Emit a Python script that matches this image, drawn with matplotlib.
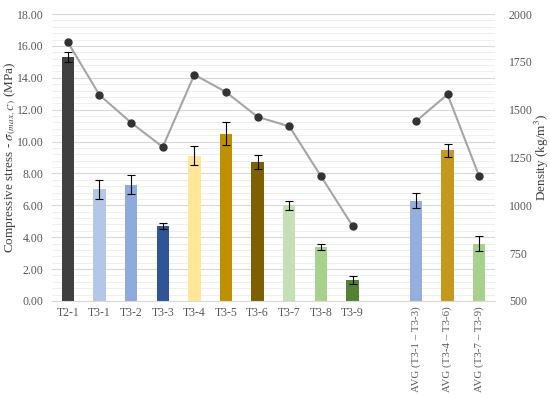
import matplotlib.pyplot as plt
import numpy as np

plt.rcParams['font.family'] = ['Liberation Serif', 'DejaVu Serif']
plt.rcParams['mathtext.fontset'] = 'stix'

labels = ["T2-1", "T3-1", "T3-2", "T3-3", "T3-4", "T3-5", "T3-6", "T3-7", "T3-8", "T3-9", "",
          "AVG (T3-1 \u2013 T3-3)", "AVG (T3-4 \u2013 T3-6)", "AVG (T3-7 \u2013 T3-9)"]
stress = [15.3, 7.0, 7.3, 4.7, 9.1, 10.5, 8.7, 6.0, 3.4, 1.3, np.nan, 6.3, 9.45, 3.6]
stress_err = [0.3, 0.6, 0.6, 0.2, 0.6, 0.7, 0.45, 0.3, 0.2, 0.25, np.nan, 0.45, 0.4, 0.45]
density = [1853, 1577, 1432, 1305, 1683, 1592, 1462, 1413, 1152, 892, np.nan, 1439, 1580, 1152]
colors = ["#404040", "#b4c7e7", "#8faadc", "#2f5597", "#ffe699", "#bf9000", "#7f6000",
          "#c5e0b4", "#a9d18e", "#548235", "#ffffff", "#95b0de", "#c49a1c", "#a9d18e"]

x = np.arange(len(labels))

fig = plt.figure(figsize=(5.5, 3.96), dpi=100)
ax = fig.add_axes([0.0945, 0.24, 0.8055, 0.7246])

ax.set_ylim(0, 18)
ax.set_yticks(np.arange(0, 18.1, 2))
ax.set_yticks(np.arange(0, 18.1, 0.4), minor=True)
ax.grid(axis='y', which='major', color='#d9d9d9', lw=0.8)
ax.grid(axis='y', which='minor', color='#ececec', lw=0.6)
ax.set_axisbelow(True)

ax.bar(x, stress, width=0.39, color=colors, zorder=2)
ax.errorbar(x, stress, yerr=stress_err, fmt='none', ecolor='#000000', elinewidth=0.8,
            capsize=3, capthick=0.8, zorder=3)

ax.set_xlim(-0.5, len(labels) - 0.5)
ax.set_xticks(x)
ax.set_xticklabels(labels)
ax.set_yticklabels(["%.2f" % v for v in np.arange(0, 18.1, 2)])
ax.tick_params(axis='both', which='both', length=0, labelsize=8.5, labelcolor='#595959', pad=6)
ax.tick_params(axis='x', pad=4)
for lbl in ax.get_xticklabels():
    if lbl.get_text().startswith("AVG"):
        lbl.set_rotation(90)
        lbl.set_fontsize(7.8)
for s in ax.spines.values():
    s.set_visible(False)
ax.spines['bottom'].set_visible(True)
ax.spines['bottom'].set_color('#d9d9d9')
ax.set_ylabel(r"Compressive stress - $\sigma_{(max,\,C)}$ (MPa)", fontsize=9.5, color='#404040')
ax.yaxis.set_label_coords(-0.077, 0.5)

ax2 = ax.twinx()
ax2.set_ylim(500, 2000)
ax2.set_yticks(np.arange(500, 2001, 250))
ax2.plot(x, density, color='#a5a5a5', lw=1.5, marker='o', markersize=5,
         markerfacecolor='#333333', markeredgecolor='#333333', zorder=4)
for s in ax2.spines.values():
    s.set_visible(False)
ax2.tick_params(axis='y', length=0, labelsize=8.5, labelcolor='#595959', pad=10)
ax2.set_ylabel("Density (kg/m$^3$)", fontsize=9.5, color='#404040')
ax2.yaxis.set_label_coords(1.086, 0.5)

fig.savefig("out.png", dpi=100)
